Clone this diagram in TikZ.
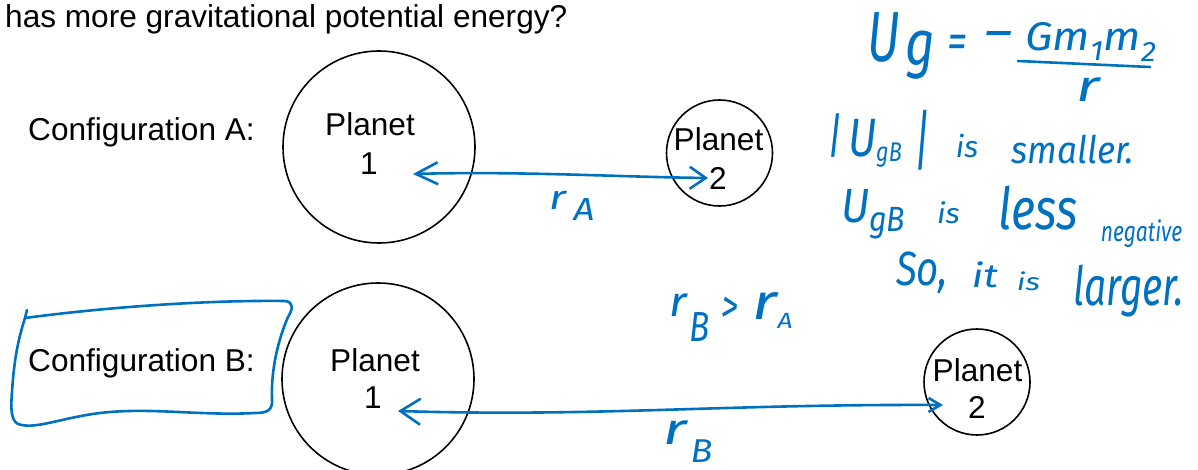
\documentclass[tikz,border=0pt]{standalone}
\usepackage{fontspec}
\usepackage{graphicx}
\setmainfont{Liberation Sans}
\newfontfamily\handfont{Fira Sans}
\usetikzlibrary{arrows.meta}
\definecolor{inkblue}{RGB}{0,112,192}
\newcommand{\hx}[3]{\scalebox{#2}[1]{\handfont\itshape\fontsize{#1}{#1}\selectfont #3}}
\begin{document}
\begin{tikzpicture}[x=1pt,y=-1pt,
  planet/.style={draw=black, line width=1.6pt, circle, inner sep=0pt},
  txt/.style={font=\fontsize{31.6}{38}\selectfont, inner sep=0pt, anchor=base},
  hand/.style={text=inkblue, inner sep=0pt, anchor=center},
  inkline/.style={draw=inkblue, line width=2.6pt, line cap=round, line join=round},
]
\useasboundingbox (0,0) rectangle (1198,470);

% black printed content
\node[txt, anchor=base west] (title) at (5,28) {has more gravitational potential energy?};
\node[txt, anchor=base west] (cfgA) at (28,141) {Configuration A:};
\node[txt, anchor=base west] (cfgB) at (28,371) {Configuration B:};

\node[planet, minimum size=192pt] (p1a) at (379,147) {};
\node[planet, minimum size=106pt] (p2a) at (719.5,153) {};
\node[planet, minimum size=192pt] (p1b) at (378,379) {};
\node[planet, minimum size=106pt] (p2b) at (977,382) {};

\node[txt] (p1aL1) at (370,136) {Planet};
\node[txt] (p1aL2) at (369,175) {1};
\node[txt] (p2aL1) at (718.5,151) {Planet};
\node[txt] (p2aL2) at (718,190) {2};
\node[txt] (p1bL1) at (375,371) {Planet};
\node[txt] (p1bL2) at (373,408) {1};
\node[txt] (p2bL1) at (977.5,381) {Planet};
\node[txt] (p2bL2) at (977,418) {2};

% blue handwritten arrows
\coordinate (aL) at (413,174);
\coordinate (aR) at (708,178);
\draw[inkline, {Straight Barb[length=22pt,width=22pt]}-{Straight Barb[length=16pt,width=22pt]}]
  (aL) .. controls (520,171) and (620,177) .. (aR);
\coordinate (bL) at (398,411);
\coordinate (bR) at (943,405);
\draw[inkline, {Straight Barb[length=20pt,width=26pt]}-{Straight Barb[length=12pt,width=14pt]}]
  (bL) .. controls (600,417) and (720,404) .. (bR);

% blue box around Configuration B
\draw[inkline] (27,310) -- (25,318) .. controls (100,308) and (200,300) .. (285,301)
  .. controls (294,302) and (293,309) .. (288,317)
  .. controls (278,340) and (271,370) .. (272,398)
  .. controls (273,410) and (268,413) .. (255,413)
  .. controls (200,416) and (150,407) .. (100,413)
  .. controls (60,418) and (35,430) .. (18,424)
  .. controls (10,420) and (11,405) .. (12,392)
  .. controls (14,360) and (18,340) .. (25,318);

% r labels
\node[hand] (rA1) at (558,200) {\hx{34}{1.3}{r}};
\node[hand] (rA2) at (584,209) {\hx{32}{1.15}{A}};
\node[hand] (rB1) at (675,433) {\hx{44}{1.4}{r}};
\node[hand] (rB2) at (701.5,451.5) {\hx{33}{1.1}{B}};

\node[hand] (c1) at (678.5,305) {\hx{42}{1.1}{r}};
\node[hand] (c2) at (700,327.5) {\hx{42}{0.8}{B}};
\node[hand] (c3) at (730,309.5) {\hx{46}{0.75}{>}};
\node[hand] (c4) at (765,306) {\hx{50}{1.3}{r}};
\node[hand] (c5) at (785,320.5) {\hx{22}{1.2}{A}};

% formula
\node[hand] (fU) at (883.5,37.5) {\hx{71}{0.7}{U}};
\node[hand] (fg) at (920,55) {\hx{64}{0.8}{g}};
\node[hand, anchor=base] (feq) at (957,59) {\hx{50}{0.8}{=}};
\node[hand, anchor=base] (fmin) at (998,52) {\hx{54}{1.2}{−}};
\node[hand] (fnum) at (1091,42) {\hx{40}{1.1}{Gm\textsubscript{1}m\textsubscript{2}}};
\coordinate (barL) at (1018,61);
\coordinate (barR) at (1150,67);
\draw[inkline] (barL) -- (barR);
\node[hand] (fden) at (1088,90) {\hx{44}{1.4}{r}};

% line 2
\node[hand] (l2a) at (835.5,136) {\hx{48}{0.8}{|}};
\node[hand] (l2b) at (862.5,138.5) {\hx{54}{0.8}{U}};
\node[hand] (l2c) at (889,155.5) {\hx{27}{0.8}{gB}};
\node[hand] (l2d) at (922,140.5) {\hx{66}{0.6}{|}};
\node[hand] (l2e) at (967,146) {\hx{30}{1}{is}};
\node[hand] (l2f) at (1073,149) {\hx{38}{0.92}{smaller.}};

% line 3
\node[hand] (l3a) at (856,206.5) {\hx{48}{0.9}{U}};
\node[hand] (l3b) at (887,223.5) {\hx{35}{0.87}{gB}};
\node[hand] (l3c) at (948.5,213) {\hx{28}{1.1}{is}};
\node[hand] (l3d) at (1038.5,208.5) {\hx{58}{0.8}{less}};
\node[hand] (l3e) at (1141.5,233.5) {\hx{28}{0.75}{negative}};

% line 4
\node[hand] (l4a) at (922,273) {\hx{48}{0.8}{So,}};
\node[hand] (l4b) at (985,275) {\hx{33}{1.25}{it}};
\node[hand] (l4c) at (1028.5,281.5) {\hx{24}{1.3}{is}};
\node[hand] (l4d) at (1128.5,291.5) {\hx{54}{0.72}{larger.}};
\end{tikzpicture}
\end{document}
